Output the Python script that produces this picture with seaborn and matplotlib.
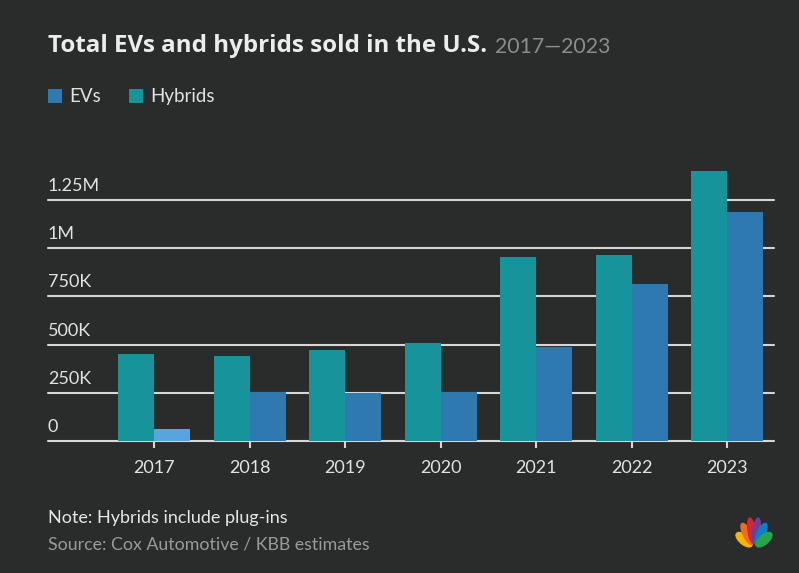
import matplotlib
matplotlib.use("Agg")
import matplotlib.pyplot as plt
import matplotlib.transforms as mtransforms
from matplotlib.patches import Patch, Ellipse
import numpy as np
import pandas as pd
import seaborn as sns

# data
years = ["2017", "2018", "2019", "2020", "2021", "2022", "2023"]
hybrids = [451000, 441000, 472000, 508000, 954000, 965000, 1400000]
evs = [62000, 252000, 247000, 252000, 488000, 814000, 1188000]
y_ticks = [0, 250000, 500000, 750000, 1000000, 1250000]
y_tick_labels = ["0", "250K", "500K", "750K", "1M", "1.25M"]

BG = "#2a2b2b"
TEAL = "#17939b"
BLUE = "#2f79b1"
LIGHT_BLUE = "#56a5de"
GRID = "#d6d6d6"
FONT = "Lato"

df = pd.DataFrame({
    "year": years * 2,
    "sales": hybrids + evs,
    "type": ["Hybrids"] * len(years) + ["EVs"] * len(years),
})

sns.set_style("dark")
plt.rcParams["font.family"] = [FONT, "DejaVu Sans"]

fig = plt.figure(figsize=(7.99, 5.73), dpi=100, facecolor=BG)
ax = fig.add_axes([0.060, 0.2304, 0.909, 0.4879])
ax.set_facecolor(BG)

sns.barplot(data=df, x="year", y="sales", hue="type", hue_order=["Hybrids", "EVs"],
            palette={"Hybrids": TEAL, "EVs": BLUE}, width=0.754, saturation=1,
            linewidth=0, edgecolor="none", legend=False, ax=ax)
# 2017 EV bar is drawn in a lighter blue in the original
ax.containers[1][0].set_facecolor(LIGHT_BLUE)

ax.set_xlim(-1.11, 6.49)
ax.set_ylim(0, 1.45e6)
ax.set_xlabel("")
ax.set_ylabel("")
for s in ax.spines.values():
    s.set_visible(False)

ax.set_yticks(y_ticks)
ax.set_yticklabels([])
ax.tick_params(axis="y", left=False, length=0)
ax.yaxis.grid(True, color=GRID, linewidth=1.5)
ax.xaxis.grid(False)
ax.set_axisbelow(True)
for line in ax.get_ygridlines():
    line.set_clip_on(False)

ax.tick_params(axis="x", bottom=True, length=5, width=1.5, color=GRID,
               labelsize=13, labelcolor="#e2e2e2", pad=9)

trans = mtransforms.blended_transform_factory(ax.transAxes, ax.transData)
trans = mtransforms.offset_copy(trans, fig=fig, x=0, y=6, units="dots")
for v, lab in zip(y_ticks, y_tick_labels):
    ax.text(0, v, lab, transform=trans, ha="left", va="bottom",
            fontsize=13, color="#e2e2e2")

# title + grey subtitle
title = fig.text(48 / 799, 1 - 46 / 573, "Total EVs and hybrids sold in the U.S.",
                 fontsize=17.4, fontweight="bold", color="#ececec", va="center",
                 family=["Open Sans", "DejaVu Sans"])
fig.canvas.draw()
bb = title.get_window_extent()
fig.text((bb.x1 + 8) / 799, 1 - 47 / 573, "2017\u20142023", fontsize=15.3,
         color="#8c8c8c", va="center")

# legend
handles = [Patch(facecolor=BLUE, edgecolor="none", label="EVs"),
           Patch(facecolor=TEAL, edgecolor="none", label="Hybrids")]
fig.legend(handles=handles, loc="center left", bbox_to_anchor=(48 / 799, 1 - 97 / 573),
           ncol=2, frameon=False, fontsize=13.5, labelcolor="#e2e2e2",
           borderpad=0, borderaxespad=0,
           handlelength=0.75, handleheight=0.75, handletextpad=0.4, columnspacing=1.45)

# footer
fig.text(48 / 799, 1 - 518 / 573, "Note: Hybrids include plug-ins", fontsize=13,
         color="#e6e6e6", va="center")
fig.text(48 / 799, 1 - 544 / 573, "Source: Cox Automotive / KBB estimates", fontsize=12.8,
         color="#9a9a9a", va="center")

# small peacock logo
lax = fig.add_axes([732 / 799, 1 - 552 / 573, 44 / 799, 38 / 573])
lax.set_xlim(-1.2, 1.2)
lax.set_ylim(-0.2, 1.2)
lax.axis("off")
feather_colors = ["#f7b500", "#ef6b23", "#d8243b", "#6c3f99", "#0b7fc6", "#2aa44a"]
for ang, c in zip(np.linspace(155, 25, 6), feather_colors):
    r = np.deg2rad(ang)
    lax.add_patch(Ellipse((0.6 * np.cos(r), 0.6 * np.sin(r)), 0.95, 0.38,
                          angle=ang, color=c))

fig.savefig("out.png", dpi=100, facecolor=BG)
